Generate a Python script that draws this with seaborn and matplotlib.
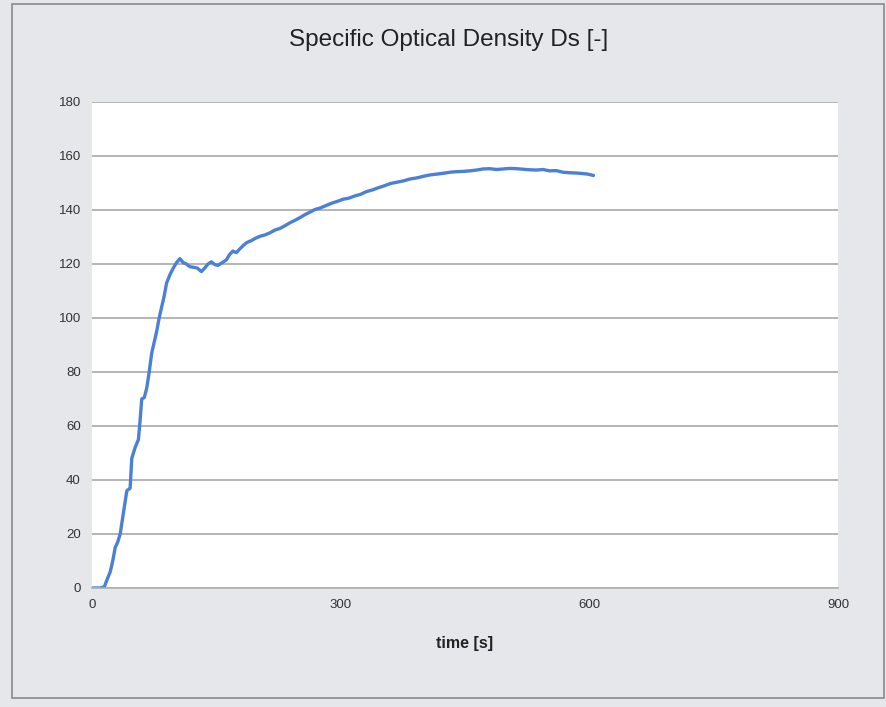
import matplotlib
matplotlib.use("Agg")
import matplotlib.pyplot as plt
import seaborn as sns
import pandas as pd

# Data
time_s = [0, 5, 10, 15, 18, 22, 25, 28, 31, 34, 38, 42, 46, 48, 52, 56, 58, 60, 63, 66,
          69, 72, 75, 78, 81, 84, 87, 90, 94, 98, 102, 106, 110, 114, 118, 122, 127, 132,
          136, 140, 144, 148, 152, 157, 162, 166, 170, 174, 178, 183, 187, 192, 197, 203,
          209, 215, 221, 227, 233, 239, 245, 251, 257, 263, 269, 275, 282, 289, 296, 303,
          310, 317, 324, 331, 338, 345, 352, 360, 368, 376, 384, 392, 400, 408, 416, 424,
          432, 440, 448, 456, 464, 472, 480, 488, 496, 504, 512, 520, 528, 536, 544, 552,
          560, 568, 576, 584, 592, 598, 605]
ds_values = [0, 0, 0, 0.5, 3, 6, 10, 15, 17, 20, 28, 36, 37, 48, 52, 55, 62, 70, 70.5, 74,
             80, 87, 91, 95, 100, 104, 108, 113, 116, 118.5, 120.5, 122, 120.5, 120, 119, 118.8,
             118.5, 117.2, 118.5, 120, 120.8, 119.8, 119.5, 120.5, 121.5, 123.5, 124.8, 124.2,
             125.5, 127, 128, 128.6, 129.5, 130.3, 130.8, 131.6, 132.6, 133.2, 134.2, 135.3,
             136.2, 137.2, 138.3, 139.2, 140.2, 140.7, 141.6, 142.5, 143.2, 144, 144.4, 145.2,
             145.8, 146.8, 147.4, 148.2, 148.9, 149.8, 150.3, 150.8, 151.5, 151.9, 152.5, 153,
             153.3, 153.6, 154, 154.2, 154.3, 154.5, 154.8, 155.2, 155.3, 155, 155.2, 155.4,
             155.3, 155.1, 154.9, 154.8, 155, 154.5, 154.6, 154, 153.8, 153.7, 153.5, 153.3, 152.8]

x_ticks = [0, 300, 600, 900]
y_ticks = [0, 20, 40, 60, 80, 100, 120, 140, 160, 180]
title_text = "Specific Optical Density Ds [-]"
x_label = "time [s]"

df = pd.DataFrame({"time": time_s, "ds": ds_values})

sns.set_theme(style="white")
plt.rcParams["font.family"] = ["Liberation Sans", "DejaVu Sans"]

bg = "#e5e7ea"
fig = plt.figure(figsize=(8.86, 7.07), dpi=100, facecolor=bg)
# outer frame of the chart
frame = plt.Rectangle((12 / 886, 1 - 698 / 707), (884 - 12) / 886, (698 - 4) / 707,
                      transform=fig.transFigure, fill=False, edgecolor="#8a8a8a",
                      linewidth=1.2)
fig.patches.append(frame)

ax = fig.add_axes([92 / 886, 1 - 588 / 707, (838 - 92) / 886, (588 - 102) / 707])
ax.set_facecolor("white")

sns.lineplot(data=df, x="time", y="ds", ax=ax, color="#4a80d6", linewidth=2.4)

ax.set_xlim(0, 900)
ax.set_ylim(0, 180)
ax.set_xticks(x_ticks)
ax.set_yticks(y_ticks)
ax.set_xticklabels([str(v) for v in x_ticks], fontsize=9.5, color="#333333")
ax.set_yticklabels([str(v) for v in y_ticks], fontsize=9.5, color="#333333")
ax.tick_params(axis="both", length=0, pad=8)
ax.yaxis.grid(True, color="#a8a8a8", linewidth=1.2)
ax.xaxis.grid(False)
for side in ["top", "right", "left"]:
    ax.spines[side].set_visible(False)
ax.spines["bottom"].set_color("#b0b0b0")
ax.spines["bottom"].set_linewidth(1.2)

ax.set_ylabel("")
ax.set_xlabel(x_label, fontsize=11.5, fontweight="bold", color="#222222", labelpad=18)

fig.text(449 / 886, 1 - 40 / 707, title_text, ha="center", va="center", fontsize=17.5,
         color="#222222")

fig.savefig("out.png", dpi=100, facecolor=bg)
